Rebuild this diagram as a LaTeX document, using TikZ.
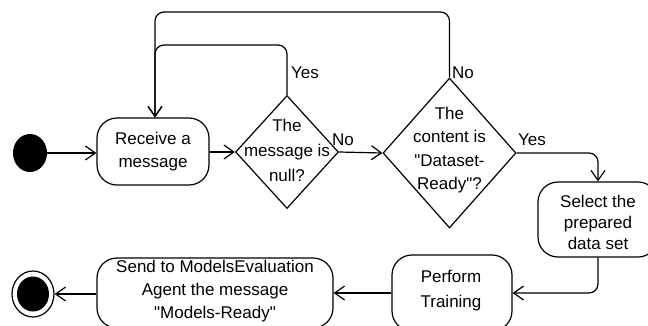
\documentclass[tikz,border=0pt]{standalone}
\usepackage{fontspec}
\setmainfont{Liberation Sans}[Ligatures=TeXOff]
\usetikzlibrary{shapes.geometric,arrows.meta}
\tikzset{
  every node/.style={font=\fontsize{17}{23}\selectfont},
  line/.style={line width=1.2pt},
  arr/.style={line, -{Straight Barb[length=10pt,width=14pt,line width=1.2pt]}},
  act/.style={draw, line width=1.2pt, rectangle, rounded corners=20pt, align=center, inner sep=0pt},
  dec/.style={draw, line width=1.2pt, diamond, inner sep=0pt},
  txt/.style={align=center, inner sep=0pt},
  lbl/.style={inner sep=0pt}
}
\begin{document}
\begin{tikzpicture}[x=1pt,y=-1pt]
\useasboundingbox (0,0) rectangle (648,325);
\clip (0,0) rectangle (648,325);
% start and end
\node[fill, ellipse, minimum width=34, minimum height=38, inner sep=0] (start) at (30,153) {};
\node[draw, line width=1.2pt, ellipse, minimum width=42, minimum height=46, inner sep=0] (endo) at (33,294) {};
\node[fill, ellipse, minimum width=32, minimum height=35, inner sep=0] (endi) at (33,294) {};
% activities
\node[act, minimum width=112, minimum height=67] (recv) at (153,151.5) {Receive a\\message};
\node[act, minimum width=120, minimum height=75] (sel) at (598,219.5) {};
\node[txt, font=\fontsize{17}{21}\selectfont] (seltxt) at (598,222) {Select the\\prepared\\data set};
\node[act, minimum width=120, minimum height=76] (perf) at (452,293) {};
\node[txt, font=\fontsize{17}{25}\selectfont] (perftxt) at (451,290.5) {Perform\\Training};
\node[act, minimum width=236, minimum height=70] (send) at (215,293) {};
\node[txt] (sendtxt) at (215,291.5) {Send to ModelsEvaluation\\Agent the message\\"Models-Ready"};
% decisions
\node[dec, minimum width=103, minimum height=113] (d1) at (287,152) {};
\node[txt, font=\fontsize{17}{25}\selectfont] (d1txt) at (287,150) {The\\message is\\null?};
\node[dec, minimum width=133, minimum height=150] (d2) at (449.5,153) {};
\node[txt, font=\fontsize{17}{23.5}\selectfont] (d2txt) at (449.5,150) {The\\content is\\"Dataset-\\Ready"?};
% loop corners
\coordinate (c1) at (155,45);
\coordinate (c2) at (155,12);
% connectors
\draw[arr] (start) -- (recv.west |- start);
\draw[arr] (recv.east |- d1.west) -- (d1.west);
\draw[arr, rounded corners=9pt] (d1.north) |- (c1) -- (recv.north -| c1);
\draw[arr, rounded corners=9pt] (d2.north) |- (c2) -- (recv.north -| c2);
\draw[arr] (d1.east) -- (d2.west);
\draw[arr, rounded corners=9pt] (d2.east) -| (sel.north);
\draw[arr, rounded corners=9pt] (sel.south) |- (perf.east);
\draw[arr] (perf.west) -- (send.east |- perf.west);
\draw[arr] (send.west |- endo.east) -- (endo.east);
% labels
\node[lbl, anchor=west] (ly1) at (291,73) {Yes};
\node[lbl] (ln1) at (343,140) {No};
\node[lbl] (ln2) at (463,73) {No};
\node[lbl] (ly2) at (532,140) {Yes};
\end{tikzpicture}
\end{document}
